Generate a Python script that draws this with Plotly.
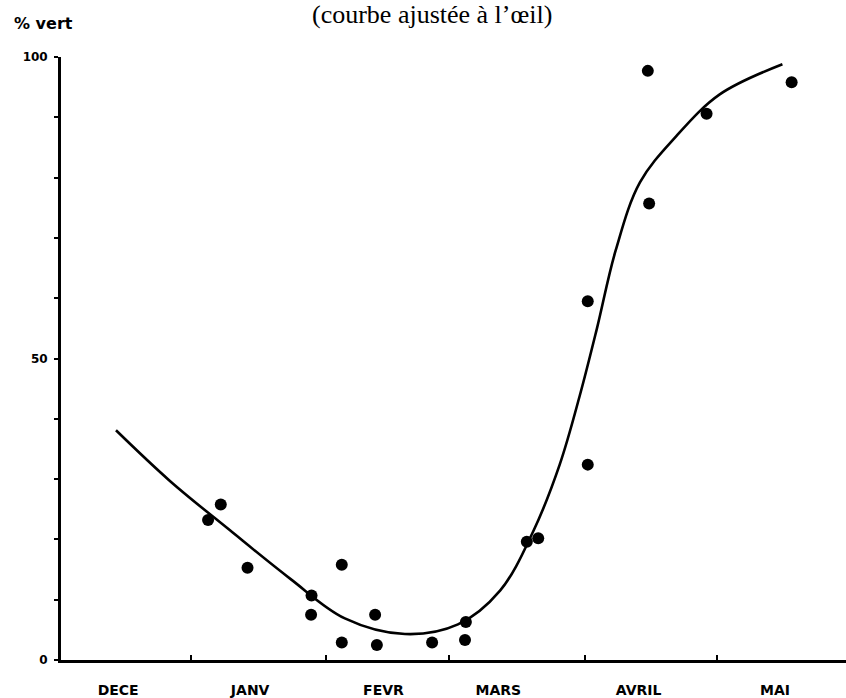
import plotly.graph_objects as go

# Observations: day since 1 December, percent green
obs_day = [35.0, 37.9, 44.0, 58.6, 58.5, 65.5, 65.5, 73.1, 73.5, 86.1,
           93.8, 93.6, 107.7, 110.3, 121.6, 121.6, 135.3, 135.6, 148.7, 168.1]
obs_val = [23.2, 25.8, 15.3, 10.7, 7.5, 15.8, 2.9, 7.5, 2.5, 2.9,
           6.3, 3.3, 19.6, 20.2, 59.5, 32.4, 97.7, 75.7, 90.6, 95.8]

# Eye-fitted curve (courbe ajustée à l'œil)
curve_day = [14.0, 26.3, 40.0, 53.7, 66.2, 79.9, 92.0, 101.6, 109.2,
             115.2, 119.8, 123.7, 128.0, 133.5, 141.7, 151.7, 166.0]
curve_val = [38.1, 29.7, 21.5, 13.5, 6.9, 4.3, 5.9, 11.5, 21.4,
             32.4, 43.9, 55.0, 68.0, 79.2, 86.8, 93.8, 98.8]

month_starts = [31, 62, 90, 121, 151]
month_label_pos = [14.5, 44.6, 75.0, 101.2, 133.2, 164.3]
month_labels = ["DECE", "JANV", "FEVR", "MARS", "AVRIL", "MAI"]

y_tickvals = [0, 10, 20, 30, 40, 50, 60, 70, 80, 90, 100]
y_ticktext = ["0", "", "", "", "", "50", "", "", "", "", "100"]

x_range = [1.46, 180.5]
label_font = dict(family="DejaVu Sans, Liberation Sans, sans-serif", size=14,
                  color="black", weight="bold")

fig = go.Figure()
fig.add_trace(go.Scatter(
    x=curve_day, y=curve_val, mode="lines",
    line=dict(color="black", width=2.6, shape="spline", smoothing=1.0),
    hoverinfo="skip", showlegend=False))
fig.add_trace(go.Scatter(
    x=obs_day, y=obs_val, mode="markers",
    marker=dict(color="black", size=12),
    showlegend=False))
# invisible trace to activate the tick-mark axis
fig.add_trace(go.Scatter(x=[x_range[0]], y=[0], xaxis="x2", mode="markers",
                         marker=dict(opacity=0), hoverinfo="skip",
                         showlegend=False))

fig.update_layout(
    width=846, height=698,
    margin=dict(l=61, r=0, t=57, b=35),
    plot_bgcolor="white", paper_bgcolor="white",
    xaxis=dict(range=x_range, showgrid=False, zeroline=False,
               showline=True, linecolor="black", linewidth=2.6,
               tickvals=month_label_pos, ticktext=month_labels,
               ticks="", ticklabelstandoff=15, tickfont=label_font,
               fixedrange=True),
    xaxis2=dict(range=x_range, overlaying="x", anchor="y", side="bottom",
                showgrid=False, zeroline=False, showline=False,
                tickvals=month_starts, showticklabels=False,
                ticks="inside", ticklen=5, tickwidth=2.2, tickcolor="black"),
    yaxis=dict(range=[0, 100], showgrid=False, zeroline=False,
               showline=True, linecolor="black", linewidth=2.8,
               tickvals=y_tickvals, ticktext=y_ticktext,
               ticks="outside", ticklen=4, tickwidth=2.2, tickcolor="black",
               ticklabelstandoff=4,
               tickfont=dict(family="DejaVu Sans, sans-serif", size=12,
                             color="black", weight="bold"),
               fixedrange=True),
    annotations=[
        dict(text="(courbe ajustée à l’œil)", xref="paper", yref="paper",
             x=(431.5 - 61) / 785, y=1, xanchor="center", yanchor="middle",
             yshift=43, showarrow=False,
             font=dict(family="Liberation Serif, DejaVu Serif, serif",
                       size=26, color="black")),
        dict(text="% vert", xref="paper", yref="paper",
             x=(12 - 61) / 785, y=1, xanchor="left", yanchor="middle",
             yshift=34, showarrow=False,
             font=dict(family="DejaVu Sans, sans-serif", size=16,
                       color="black", weight="bold")),
    ],
)

fig.write_html("out.html")
